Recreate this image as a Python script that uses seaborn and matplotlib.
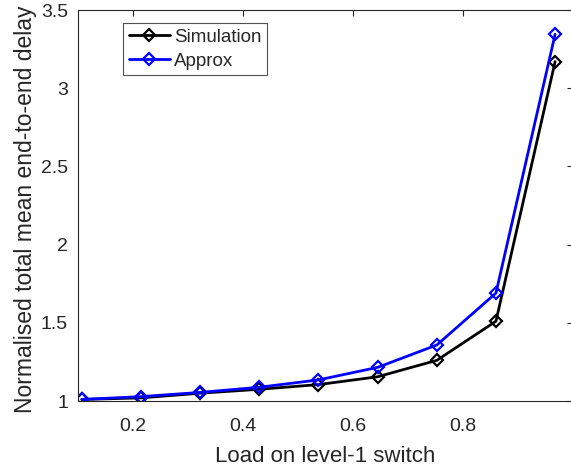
import matplotlib
matplotlib.use("Agg")
import matplotlib.pyplot as plt
import seaborn as sns
import pandas as pd

# Load on the level-1 switch and normalised delays
load = [0.1075, 0.215, 0.3225, 0.43, 0.5375, 0.645, 0.7525, 0.86, 0.9675]
simulation = [1.01, 1.02, 1.05, 1.075, 1.105, 1.155, 1.26, 1.51, 3.17]
approx = [1.01, 1.028, 1.055, 1.088, 1.135, 1.215, 1.358, 1.69, 3.345]
series_names = ["Simulation", "Approx"]
series_colors = ["#000000", "#0000ff"]
x_ticks = [0.2, 0.4, 0.6, 0.8]
y_ticks = [1, 1.5, 2, 2.5, 3, 3.5]

df = pd.concat([
    pd.DataFrame({"load": load, "delay": simulation, "series": series_names[0]}),
    pd.DataFrame({"load": load, "delay": approx, "series": series_names[1]}),
])

sns.set_style("white")
plt.rcParams["font.family"] = ["Liberation Sans", "DejaVu Sans"]

fig = plt.figure(figsize=(5.71, 4.72), dpi=100)
ax = fig.add_axes([0.136, 0.1504, 0.8675, 0.8284])

sns.lineplot(data=df, x="load", y="delay", hue="series",
             palette=dict(zip(series_names, series_colors)),
             marker="D", markersize=6.5, markerfacecolor="none",
             markeredgewidth=1.6, linewidth=2, ax=ax, legend=False)
# open diamond markers keep the line colour on their edges
for line, c in zip(ax.lines, series_colors):
    line.set_markeredgecolor(c)

ax.set_xlim(0.1, 1.0)
ax.set_ylim(1, 3.5)
ax.set_xticks(x_ticks)
ax.set_yticks(y_ticks)
ax.set_xticklabels(["0.2", "0.4", "0.6", "0.8"])
ax.set_yticklabels(["1", "1.5", "2", "2.5", "3", "3.5"])

axis_color = "#262626"
for s in ax.spines.values():
    s.set_color(axis_color)
    s.set_linewidth(0.8)
ax.tick_params(direction="in", length=4, width=0.8, colors=axis_color,
               labelsize=14, top=True, right=True)
ax.tick_params(axis="x", pad=12)
ax.tick_params(axis="y", pad=7)
ax.set_xlabel("Load on level-1 switch", fontsize=16, color=axis_color, labelpad=8)
ax.set_ylabel("Normalised total mean end-to-end delay", fontsize=16.5,
              color=axis_color, labelpad=3)
ax.yaxis.label.set_y(0.49)

handles = [plt.Line2D([], [], color=c, marker="D", markersize=6.5,
                      markerfacecolor="none", markeredgewidth=1.6, linewidth=2)
           for c in series_colors]
leg = ax.legend(handles, series_names, loc="upper left",
                bbox_to_anchor=(0.092, 0.966), fontsize=13.5, frameon=True,
                fancybox=False, edgecolor=axis_color, handlelength=2.2,
                handletextpad=0.2, borderpad=0.3, labelspacing=0.35,
                borderaxespad=0)
leg.get_frame().set_linewidth(0.8)

fig.savefig("out.png", dpi=100)
